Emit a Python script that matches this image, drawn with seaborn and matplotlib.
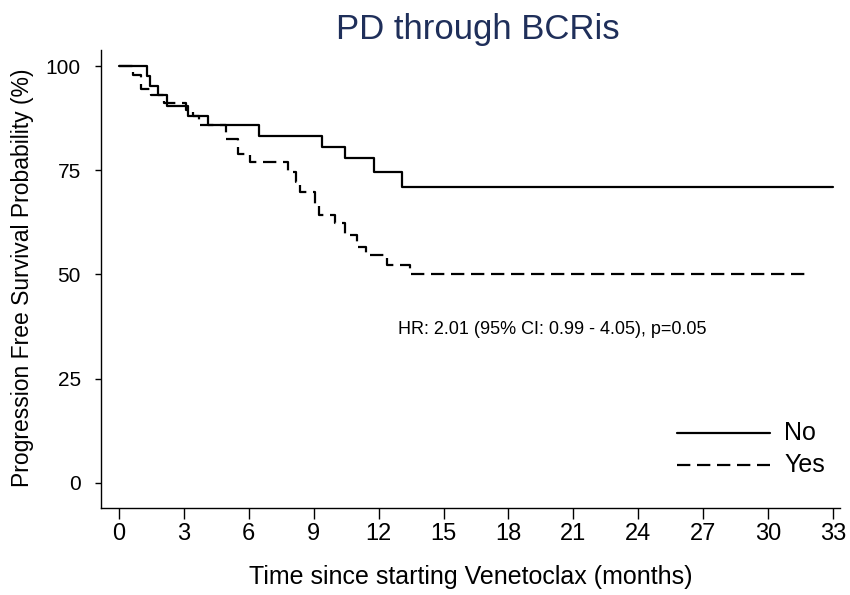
import numpy as np
import pandas as pd
import seaborn as sns
import matplotlib
matplotlib.use("Agg")
import matplotlib.pyplot as plt

# Kaplan-Meier steps (time in months, PFS in %)
no_time = [0, 1.3, 1.45, 1.82, 2.2, 3.2, 4.1, 6.45, 9.4, 10.45, 11.8, 13.1, 33.0]
no_surv = [100, 97.5, 95.1, 93.0, 90.4, 87.9, 85.8, 83.2, 80.6, 77.9, 74.7, 71.1, 71.1]

yes_time = [0, 0.65, 1.0, 1.5, 2.1, 3.1, 3.4, 3.7, 4.95, 5.5, 6.05, 7.8, 8.2, 8.35,
            9.05, 9.25, 10.0, 10.45, 10.98, 11.4, 12.37, 13.45, 31.9]
yes_surv = [100, 97.8, 94.6, 93.0, 91.1, 89.4, 87.9, 85.8, 82.6, 79.0, 77.0, 74.6, 72.2, 69.8,
            67.0, 64.3, 62.4, 59.5, 56.7, 54.7, 52.3, 50.0, 50.0]

x_ticks = list(range(0, 34, 3))
y_ticks = [0, 25, 50, 75, 100]

df = pd.concat([
    pd.DataFrame({"time": no_time, "surv": no_surv, "group": "No"}),
    pd.DataFrame({"time": yes_time, "surv": yes_surv, "group": "Yes"}),
], ignore_index=True)

sns.set_style("white")
plt.rcParams["font.family"] = ["Liberation Sans", "DejaVu Sans"]
plt.rcParams["text.color"] = "black"
plt.rcParams["axes.labelcolor"] = "black"

fig = plt.figure(figsize=(8.5, 5.95), dpi=100)
ax = fig.add_axes([101 / 850, 1 - 508 / 595, (840 - 101) / 850, (508 - 50) / 595])

sns.lineplot(data=df, x="time", y="surv", hue="group", style="group",
             palette={"No": "black", "Yes": "black"},
             dashes={"No": "", "Yes": (6, 3)},
             drawstyle="steps-post", estimator=None, sort=False,
             linewidth=1.6, ax=ax, legend=False)

ax.set_xlim(-0.83, 33.32)
ax.set_ylim(-6.0, 103.84)
ax.set_xticks(x_ticks)
ax.set_yticks(y_ticks)
ax.tick_params(axis="x", bottom=True, length=8, width=1, direction="out", pad=3,
               labelsize=17, colors="black")
ax.tick_params(axis="y", left=True, length=4.5, width=1, direction="out", pad=10,
               labelsize=15, colors="black")
ax.spines["top"].set_visible(False)
ax.spines["right"].set_visible(False)
for s in ["left", "bottom"]:
    ax.spines[s].set_color("black")
    ax.spines[s].set_linewidth(1)

ax.set_xlabel("Time since starting Venetoclax (months)", fontsize=18, labelpad=14)
ax.set_ylabel("Progression Free Survival Probability (%)", fontsize=16.5, va="center")
ax.yaxis.set_label_coords((22 - 101) / 739, (508 - 278) / 458)
fig.text(478 / 850, 1 - 30 / 595, "PD through BCRis", ha="center", va="center",
         fontsize=25, color="#1f2f5a")

ax.text(12.9, 36.7, "HR: 2.01 (95% CI: 0.99 - 4.05), p=0.05", fontsize=13, ha="left", va="center")

# legend drawn inside the plot region, no frame
ax.plot([25.8, 30.1], [12.0, 12.0], color="black", linewidth=1.6)
ax.plot([25.8, 30.1], [4.3, 4.3], color="black", linewidth=1.6, dashes=(6, 3))
ax.text(30.75, 12.0, "No", fontsize=18, va="center", ha="left")
ax.text(30.75, 4.3, "Yes", fontsize=18, va="center", ha="left")

fig.savefig("out.png", dpi=100)
